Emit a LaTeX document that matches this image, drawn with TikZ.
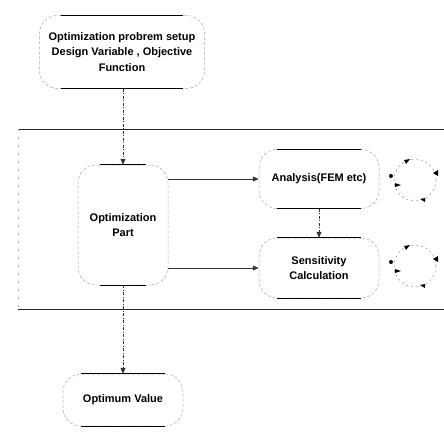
\documentclass[tikz,border=0pt]{standalone}
\usepackage{fontspec}
\setmainfont{Liberation Sans}
\usetikzlibrary{arrows.meta,calc}
\begin{document}
\begin{tikzpicture}[x=1pt,y=-1pt,
  blob/.style={draw=black!35, dash pattern=on 3pt off 2pt, rounded corners=18pt, line width=0.5pt,
    align=center, font=\fontsize{11}{15.5}\selectfont\bfseries, inner sep=0pt},
  edge/.style={draw=black, line width=0.8pt},
  conn/.style={draw=black!80, line width=0.6pt, -{Triangle[length=6pt,width=5pt]}},
  dconn/.style={conn, dash pattern=on 3pt off 1.5pt on 1pt off 1.5pt},
  frame/.style={draw=black!85, line width=0.9pt},
  loop/.style={draw=black!45, line width=0.5pt, dash pattern=on 2pt off 3pt},
  tip/.style={fill=black, draw=none}
]
\useasboundingbox (0,0) rectangle (444,432);
% nodes
\node[blob, minimum width=165pt, minimum height=73pt] (setup) at (122,52)
  {Optimization probrem setup\\Design Variable , Objective\\Function};
\node[blob, minimum width=90pt, minimum height=120pt] (opt) at (123,225)
  {Optimization\\Part};
\node[blob, minimum width=120pt, minimum height=59pt] (ana) at (319,179)
  {Analysis(FEM etc)};
\node[blob, minimum width=120pt, minimum height=60pt] (sen) at (319,268)
  {Sensitivity\\Calculation};
\node[blob, minimum width=120pt, minimum height=52pt] (val) at (123,400)
  {Optimum Value};
% dark top/bottom edges
\foreach \n/\s in {setup/22, opt/22, ana/18, sen/18, val/18}{
  \draw[edge] ([xshift=\s pt]\n.north west) -- ([xshift=-\s pt]\n.north east);
  \draw[edge] ([xshift=\s pt]\n.south west) -- ([xshift=-\s pt]\n.south east);
}
% outer frame
\draw[frame] (18,129) -- (444,129);
\draw[frame] (18,309) -- (444,309);
\draw[draw=black!30, dash pattern=on 2pt off 6pt] (18,129) -- (18,309);
% connectors
\draw[dconn] (setup.south -| opt.north) -- (opt.north);
\draw[conn] (ana.west -| opt.east) -- (ana.west);
\draw[conn] (sen.west -| opt.east) -- (sen.west);
\draw[dconn] (ana.south) -- (sen.north);
\draw[dconn] (opt.south) -- (val.north);
% iteration loops
\foreach \cy in {180,266}{
  \draw[loop] (415,\cy) circle (21pt);
  \fill (391,\cy-4) circle (2pt);
  \fill[tip] (395,\cy+3) -- (401,\cy+5) -- (395,\cy+7) -- cycle;
  \fill[tip] (404,\cy-20) -- (410,\cy-21) -- (406,\cy-16) -- cycle;
  \fill[tip] (438,\cy-10) -- (433,\cy-7) -- (438,\cy-4) -- cycle;
  \fill[tip] (425,\cy+18) -- (420,\cy+19) -- (425,\cy+22) -- cycle;
}
\end{tikzpicture}
\end{document}
